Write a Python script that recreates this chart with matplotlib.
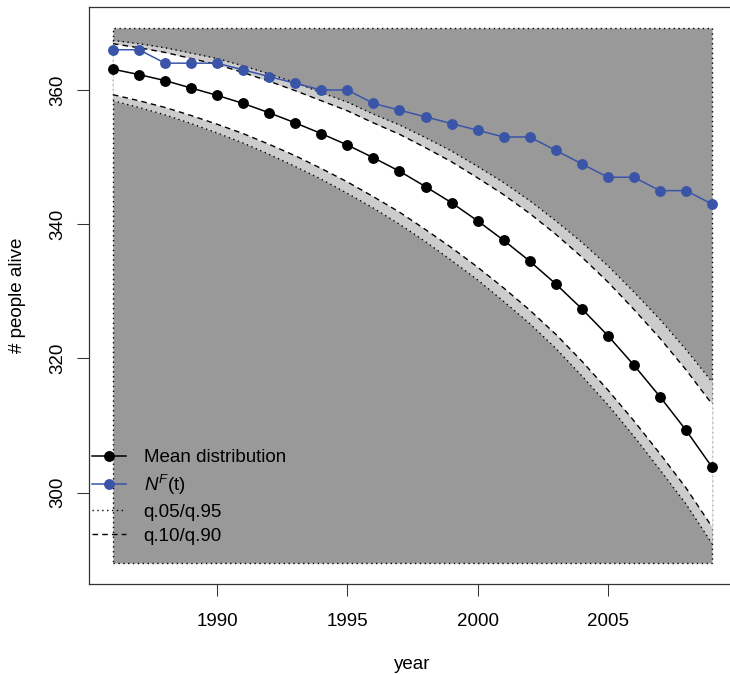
import matplotlib
matplotlib.use("Agg")
import matplotlib.pyplot as plt
from matplotlib.lines import Line2D
from matplotlib.patches import Rectangle

plt.rcParams['font.family'] = ['Liberation Sans', 'DejaVu Sans']
plt.rcParams['mathtext.fontset'] = 'custom'
plt.rcParams['mathtext.rm'] = 'Liberation Sans'
plt.rcParams['mathtext.it'] = 'Liberation Sans:italic'

years = list(range(1986, 2010))
mean_dist = [363.1, 362.3, 361.4, 360.3, 359.2, 358.0, 356.6, 355.1, 353.5, 351.8,
             349.9, 347.9, 345.6, 343.2, 340.5, 337.6, 334.5, 331.1, 327.4, 323.4,
             319.0, 314.3, 309.3, 303.8]
nf = [366, 366, 364, 364, 364, 363, 362, 361, 360, 360, 358, 357, 356, 355, 354,
      353, 353, 351, 349, 347, 347, 345, 345, 343]
q95 = [367.4, 366.9, 366.3, 365.5, 364.7, 363.6, 362.4, 361.1, 359.6, 358.2,
       356.4, 354.8, 352.9, 350.9, 348.6, 346.2, 343.5, 340.5, 337.3, 333.8,
       329.9, 325.8, 321.3, 316.5]
q90 = [366.9, 366.3, 365.6, 364.7, 363.8, 362.6, 361.3, 359.9, 358.4, 356.9,
       355.1, 353.4, 351.4, 349.3, 346.9, 344.4, 341.6, 338.5, 335.1, 331.4,
       327.3, 323.0, 318.3, 313.2]
q10 = [359.3, 358.4, 357.4, 356.2, 354.9, 353.5, 351.9, 350.2, 348.3, 346.3,
       344.1, 341.8, 339.2, 336.5, 333.6, 330.5, 327.2, 323.6, 319.6, 315.3,
       310.7, 305.8, 300.7, 294.9]
q05 = [358.4, 357.4, 356.3, 355.0, 353.6, 352.1, 350.4, 348.6, 346.7, 344.6,
       342.4, 340.0, 337.4, 334.6, 331.7, 328.5, 325.2, 321.5, 317.4, 313.1,
       308.4, 303.4, 298.3, 292.4]
rect_y = (289.55, 369.2)
xticks = [1990, 1995, 2000, 2005]
yticks = [300, 320, 340, 360]

dark = '#999999'
light = '#cccccc'
blue = '#3a55a8'
fs = 13.5

fig = plt.figure(figsize=(7.30, 6.75), dpi=100)
ax = fig.add_axes([89/730, 91/675, 647/730, 577/675])

x0, x1 = years[0], years[-1]
ax.add_patch(Rectangle((x0, rect_y[0]), x1 - x0, rect_y[1] - rect_y[0],
                       facecolor=dark, edgecolor='black', linewidth=1.0,
                       linestyle=(0, (1, 2.5)), zorder=1))
ax.fill_between(years, q05, q95, color=light, linewidth=0, zorder=2)
ax.fill_between(years, q10, q90, color='white', linewidth=0, zorder=3)
for q in (q05, q95):
    ax.plot(years, q, color='black', linewidth=1.0, linestyle=(0, (1, 2.5)), zorder=4)
for q in (q10, q90):
    ax.plot(years, q, color='black', linewidth=1.0, linestyle=(0, (4, 3)), zorder=4)
ax.plot(years, mean_dist, color='black', linewidth=1.1, marker='o', markersize=6.8, zorder=5)
ax.plot(years, nf, color=blue, linewidth=1.1, marker='o', markersize=6.8, zorder=6)

ax.set_xlim(1985.08, 2009.92)
ax.set_ylim(286.38, 372.37)
ax.set_xticks(xticks)
ax.set_yticks(yticks)
ax.tick_params(axis='both', length=8.4, width=0.75, labelsize=fs, color='#333333')
ax.tick_params(axis='x', pad=12.5)
ax.tick_params(axis='y', pad=8)
for lab in ax.get_yticklabels():
    lab.set_rotation(90)
    lab.set_va('center')
for sp in ax.spines.values():
    sp.set_linewidth(0.9)
    sp.set_color('#333333')

ax.set_xlabel('year', fontsize=fs, labelpad=19)
ax.set_ylabel('# people alive', fontsize=fs, labelpad=17)

handles = [
    Line2D([], [], color='black', linewidth=1.1, marker='o', markersize=6.8),
    Line2D([], [], color=blue, linewidth=1.1, marker='o', markersize=6.8),
    Line2D([], [], color='black', linewidth=1.0, linestyle=(0, (1, 2.5))),
    Line2D([], [], color='black', linewidth=1.0, linestyle=(0, (4, 3))),
]
labels = ['Mean distribution', r'$N^F$(t)', 'q.05/q.95', 'q.10/q.90']
ax.legend(handles, labels, loc='lower left', bbox_to_anchor=(0.004, 0.068),
          frameon=False, fontsize=fs, handlelength=1.85, handletextpad=0.92,
          labelspacing=0.36, borderpad=0, borderaxespad=0)

fig.savefig('out.png', dpi=100)
